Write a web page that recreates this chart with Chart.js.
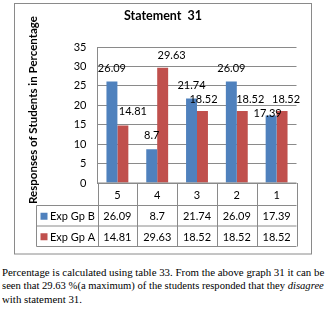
<!DOCTYPE html>
<html>
<head>
<meta charset="utf-8">
<script src="https://cdn.jsdelivr.net/npm/chart.js@4"></script>
<style>
  html, body { margin: 0; padding: 0; background: #fff; width: 327px; height: 311px; overflow: hidden; }
  #wrap { position: absolute; left: 0; top: 0; width: 327px; height: 258px; }
  .ln { position: absolute; left: 2px; white-space: nowrap; font-family: "Liberation Serif", "Times New Roman", serif; font-size: 11px; line-height: 11px; color: #000; transform-origin: 0 0; }
</style>
</head>
<body>
<div id="wrap"><canvas id="c" width="327" height="258"></canvas></div>
<div class="ln" id="l1" style="top:267px">Percentage is calculated using table 33. From the above graph 31 it can be</div>
<div class="ln" id="l2" style="top:279.5px">seen that 29.63 %(a maximum) of the students responded that they <i>disagree</i></div>
<div class="ln" id="l3" style="top:294.3px">with statement 31.</div>
<script>
const categories = ['5', '4', '3', '2', '1'];
const expGpB = [26.09, 8.7, 21.74, 26.09, 17.39];
const expGpA = [14.81, 29.63, 18.52, 18.52, 18.52];
const seriesNames = ['Exp Gp B', 'Exp Gp A'];
const yTicks = [0, 5, 10, 15, 20, 25, 30, 35];
const chartTitle = 'Statement  31';
const yTitle = 'Responses of Students in Percentage';

// label nudges (styling only, relative to each bar's top centre)
const labelNudge = [
  [[0, -13.5], [0, -13.3], [0, -13.3], [0, -13.4], [-3.5, -1.5]],
  [[10, -14], [9, -12.7], [1, -12], [8, -12], [4, -12]]
];

const BLUE = '#4F81BD', RED = '#C0504D', GRID = '#8a8a8a';
const FONT = 'Lato, "Open Sans", sans-serif';

const fmt = v => String(v);

// fit note lines to the text width (322px)
(function fitNote() {
  const l1 = document.getElementById('l1'), l2 = document.getElementById('l2'), l3 = document.getElementById('l3');
  const s1 = 322 / l1.scrollWidth, s2 = 322 / l2.scrollWidth;
  l1.style.transform = 'scaleX(' + s1 + ')';
  l2.style.transform = 'scaleX(' + s2 + ')';
  l3.style.transform = 'scaleX(' + s1 + ')';
})();

const tablePlugin = {
  id: 'tablePlugin',
  afterDraw(chart) {
    const ctx = chart.ctx;
    const x = chart.scales.x;
    const ca = chart.chartArea;
    const left = ca.left, right = ca.right, bottom = ca.bottom;
    const r0 = bottom, r1 = bottom + 22.5, r2 = r1 + 20.5, r3 = r2 + 20.5;
    const tl = 36.5;
    ctx.save();
    ctx.strokeStyle = GRID; ctx.lineWidth = 1;
    ctx.strokeRect(14.5, 3.5, 297, 250.5);
    ctx.beginPath();
    ctx.moveTo(left, r0); ctx.lineTo(right, r0);
    [r1, r2, r3].forEach(r => { ctx.moveTo(tl, r); ctx.lineTo(right, r); });
    ctx.moveTo(tl, r1); ctx.lineTo(tl, r3);
    const n = categories.length;
    const w = (right - left) / n;
    for (let i = 0; i <= n; i++) {
      const px = Math.round(left + i * w) + 0.5;
      ctx.moveTo(px, r0); ctx.lineTo(px, r3);
    }
    ctx.stroke();
    ctx.fillStyle = '#000';
    ctx.font = '11px ' + FONT;
    ctx.textAlign = 'center'; ctx.textBaseline = 'middle';
    categories.forEach((c, i) => {
      const cx = x.getPixelForValue(i);
      ctx.fillText(c, cx, (r0 + r1) / 2 + 1);
      ctx.fillText(fmt(expGpB[i]), cx, (r1 + r2) / 2 + 1);
      ctx.fillText(fmt(expGpA[i]), cx, (r2 + r3) / 2 + 1);
    });
    ctx.textAlign = 'left';
    [[seriesNames[0], BLUE, (r1 + r2) / 2], [seriesNames[1], RED, (r2 + r3) / 2]].forEach(([name, col, cy]) => {
      ctx.fillStyle = col;
      ctx.fillRect(40.5, cy - 3, 7, 7);
      ctx.fillStyle = '#000';
      ctx.fillText(name, 50, cy + 1);
    });
    ctx.textAlign = 'center';
    chart.data.datasets.forEach((ds, di) => {
      const meta = chart.getDatasetMeta(di);
      meta.data.forEach((el, i) => {
        const [dx, dy] = labelNudge[di][i];
        ctx.fillText(fmt(ds.data[i]), el.x + dx, el.y + dy);
      });
    });
    ctx.font = 'bold 12.5px ' + FONT;
    ctx.fillText(chartTitle, 163, 16);
    ctx.translate(33, 110);
    ctx.rotate(-Math.PI / 2);
    ctx.font = 'bold 11.5px ' + FONT;
    ctx.fillText(yTitle, 0, 0);
    ctx.restore();
  }
};

new Chart(document.getElementById('c'), {
  type: 'bar',
  data: {
    labels: categories,
    datasets: [
      { label: seriesNames[0], data: expGpB, backgroundColor: BLUE },
      { label: seriesNames[1], data: expGpA, backgroundColor: RED }
    ]
  },
  options: {
    responsive: false,
    animation: false,
    devicePixelRatio: 1,
    layout: { padding: { left: 20, right: 30.5, top: 47, bottom: 75 } },
    datasets: { bar: { categoryPercentage: 0.55, barPercentage: 1 } },
    plugins: { legend: { display: false }, title: { display: false }, tooltip: { enabled: false } },
    scales: {
      x: { display: false },
      y: {
        min: 0, max: 35,
        afterFit(s) { s.width = 77.5; },
        afterBuildTicks(s) { s.ticks = yTicks.map(v => ({ value: v })); },
        ticks: { color: '#000', font: { size: 11, family: FONT }, padding: 11 },
        grid: { color: GRID, drawTicks: false },
        border: { color: GRID }
      }
    }
  },
  plugins: [tablePlugin]
});
</script>
</body>
</html>
